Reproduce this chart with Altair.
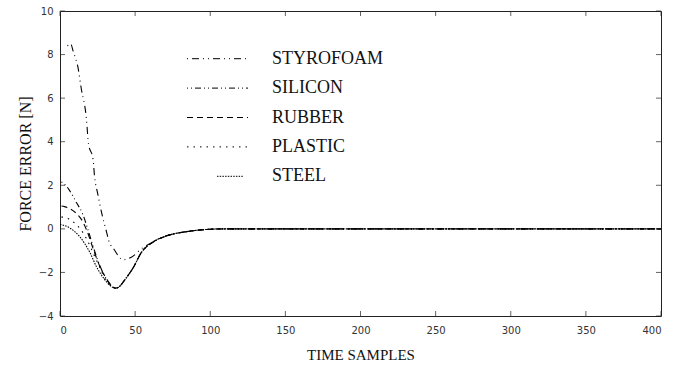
import altair as alt
import pandas as pd

# Force error traces (time samples vs. force error in N) for five materials
series_order = ["STYROFOAM", "SILICON", "RUBBER", "PLASTIC", "STEEL"]

styrofoam_x = [5, 7, 9, 12, 14, 17.5, 19, 22, 23, 25, 28, 31, 32.5, 36, 42, 47.5, 55, 62, 71, 84, 97, 110, 400]
styrofoam_y = [8.4, 8.5, 8.1, 7.4, 6.5, 5.1, 3.9, 3.2, 2.4, 1.65, 0.65, -0.15, -0.55, -0.95, -1.42, -1.3, -0.87, -0.6, -0.32, -0.13, -0.03, 0, 0]

silicon_x = [1, 3, 6, 11, 15, 18, 22, 26, 30, 34, 37, 39, 43, 49, 54, 62, 71, 84, 97, 110, 400]
silicon_y = [2.15, 2.05, 1.8, 1.2, 0.7, 0.1, -0.8, -1.6, -2.2, -2.6, -2.72, -2.68, -2.35, -1.75, -1.1, -0.6, -0.32, -0.13, -0.03, 0, 0]

rubber_x = [1, 3, 6, 11, 15, 18, 22, 27, 31, 35, 37, 39, 43, 49, 54, 62, 71, 84, 97, 110, 400]
rubber_y = [1.05, 1.02, 0.95, 0.7, 0.35, -0.1, -0.9, -1.8, -2.3, -2.65, -2.72, -2.68, -2.35, -1.75, -1.1, -0.6, -0.32, -0.13, -0.03, 0, 0]

plastic_x = [1, 3, 6, 10, 14, 18, 22, 26, 30, 35, 37, 39, 43, 49, 54, 62, 71, 84, 97, 110, 400]
plastic_y = [0.55, 0.52, 0.45, 0.25, -0.05, -0.5, -1.1, -1.7, -2.3, -2.68, -2.72, -2.68, -2.35, -1.75, -1.1, -0.6, -0.32, -0.13, -0.03, 0, 0]

steel_x = [0, 3, 7, 13, 20, 24, 30, 35, 37, 39, 43, 49, 54, 62, 71, 84, 97, 110, 400]
steel_y = [0.2, 0.15, 0.02, -0.35, -1.1, -1.7, -2.35, -2.68, -2.72, -2.68, -2.35, -1.75, -1.1, -0.6, -0.32, -0.13, -0.03, 0, 0]

x_tick_values = [0, 50, 100, 150, 200, 250, 300, 350, 400]
y_tick_values = [-4, -2, 0, 2, 4, 6, 8, 10]

dash_patterns = [[1, 4, 7, 4, 1, 4], [1, 3, 1, 3, 6, 3], [6, 4], [1.5, 5], [1.5, 1.2]]

frames = []
for name, xs, ys in [
    ("STYROFOAM", styrofoam_x, styrofoam_y),
    ("SILICON", silicon_x, silicon_y),
    ("RUBBER", rubber_x, rubber_y),
    ("PLASTIC", plastic_x, plastic_y),
    ("STEEL", steel_x, steel_y),
]:
    frames.append(pd.DataFrame({"sample": xs, "error": ys, "material": name}))
curves = pd.concat(frames, ignore_index=True)

W, H = 601, 305
x_scale = alt.Scale(domain=[0, 400], nice=False, zero=False)
y_scale = alt.Scale(domain=[-4, 10], nice=False, zero=False)
dash_scale = alt.Scale(domain=series_order, range=dash_patterns)

x_axis = alt.Axis(
    values=x_tick_values,
    title="TIME SAMPLES",
    titleX=W / 2,
    titleY=38,
    titleBaseline="middle",
    titleFont="Liberation Serif",
    titleFontSize=15,
    titleFontWeight="normal",
    titleColor="#111",
    labelFont="DejaVu Sans",
    labelFontSize=10,
    labelColor="#333",
    labelPadding=9,
    ticks=False,
    tickSize=0,
    domain=False,
    grid=False,
)
y_axis = alt.Axis(
    values=y_tick_values,
    title="FORCE ERROR [N]",
    titleX=-35,
    titleY=H / 2,
    titleBaseline="middle",
    titleFont="Liberation Serif",
    titleFontSize=16,
    titleFontWeight="normal",
    titleColor="#111",
    labelFont="DejaVu Sans",
    labelFontSize=10,
    labelColor="#333",
    labelPadding=7,
    ticks=False,
    tickSize=0,
    domain=False,
    grid=False,
)

lines = (
    alt.Chart(curves)
    .mark_line(color="black", strokeWidth=1.1, interpolate="monotone")
    .encode(
        x=alt.X("sample:Q", scale=x_scale, axis=x_axis),
        y=alt.Y("error:Q", scale=y_scale, axis=y_axis),
        strokeDash=alt.StrokeDash("material:N", scale=dash_scale, legend=None),
        detail="material:N",
    )
)

# Inward tick marks on all four sides of the frame
yticks_df = pd.DataFrame({"error": y_tick_values})
xticks_df = pd.DataFrame({"sample": x_tick_values})

tick_style = dict(color="#222", size=5, thickness=1)
left_ticks = alt.Chart(yticks_df).mark_tick(**tick_style).encode(
    y=alt.Y("error:Q", scale=y_scale, axis=y_axis), x=alt.value(2.5)
)
right_ticks = alt.Chart(yticks_df).mark_tick(**tick_style).encode(
    y=alt.Y("error:Q", scale=y_scale, axis=y_axis), x=alt.value(W - 2.5)
)
bottom_ticks = alt.Chart(xticks_df).mark_tick(**tick_style).encode(
    x=alt.X("sample:Q", scale=x_scale, axis=x_axis), y=alt.value(H - 2.5)
)
top_ticks = alt.Chart(xticks_df).mark_tick(**tick_style).encode(
    x=alt.X("sample:Q", scale=x_scale, axis=x_axis), y=alt.value(2.5)
)

plot = alt.layer(lines, left_ticks, right_ticks, bottom_ticks, top_ticks)

# Key inside the plot: dash sample + material name per row
key_df = pd.DataFrame({"material": series_order})
key_y = alt.Y(
    "material:N",
    sort=series_order,
    scale=alt.Scale(domain=series_order, range=[33, 180]),
    axis=None,
)
key_lines = (
    alt.Chart(key_df)
    .transform_filter(alt.datum.material != "STEEL")
    .mark_rule(color="black", strokeWidth=1)
    .encode(
        y=key_y,
        x=alt.value(127),
        x2=alt.value(188),
        strokeDash=alt.StrokeDash("material:N", scale=dash_scale, legend=None),
    )
)
key_steel = (
    alt.Chart(key_df)
    .transform_filter(alt.datum.material == "STEEL")
    .mark_rule(color="black", strokeWidth=1)
    .encode(
        y=key_y,
        x=alt.value(157),
        x2=alt.value(184),
        strokeDash=alt.StrokeDash("material:N", scale=dash_scale, legend=None),
    )
)
key_text = (
    alt.Chart(key_df)
    .mark_text(
        align="left",
        baseline="middle",
        font="Liberation Serif",
        fontSize=18,
        color="#111",
    )
    .encode(y=key_y, x=alt.value(212), text="material:N")
)
key = alt.layer(key_lines, key_steel, key_text)

chart = (
    alt.layer(plot, key)
    .resolve_scale(y="independent")
    .properties(
        width=W,
        height=H,
        autosize=alt.AutoSizeParams(type="none"),
        padding={"left": 60, "top": 11, "right": 28, "bottom": 52},
        background="white",
    )
    .configure_view(stroke="#222", strokeWidth=1)
)

chart.save("out.html", embed_options={"renderer": "svg", "actions": False})
